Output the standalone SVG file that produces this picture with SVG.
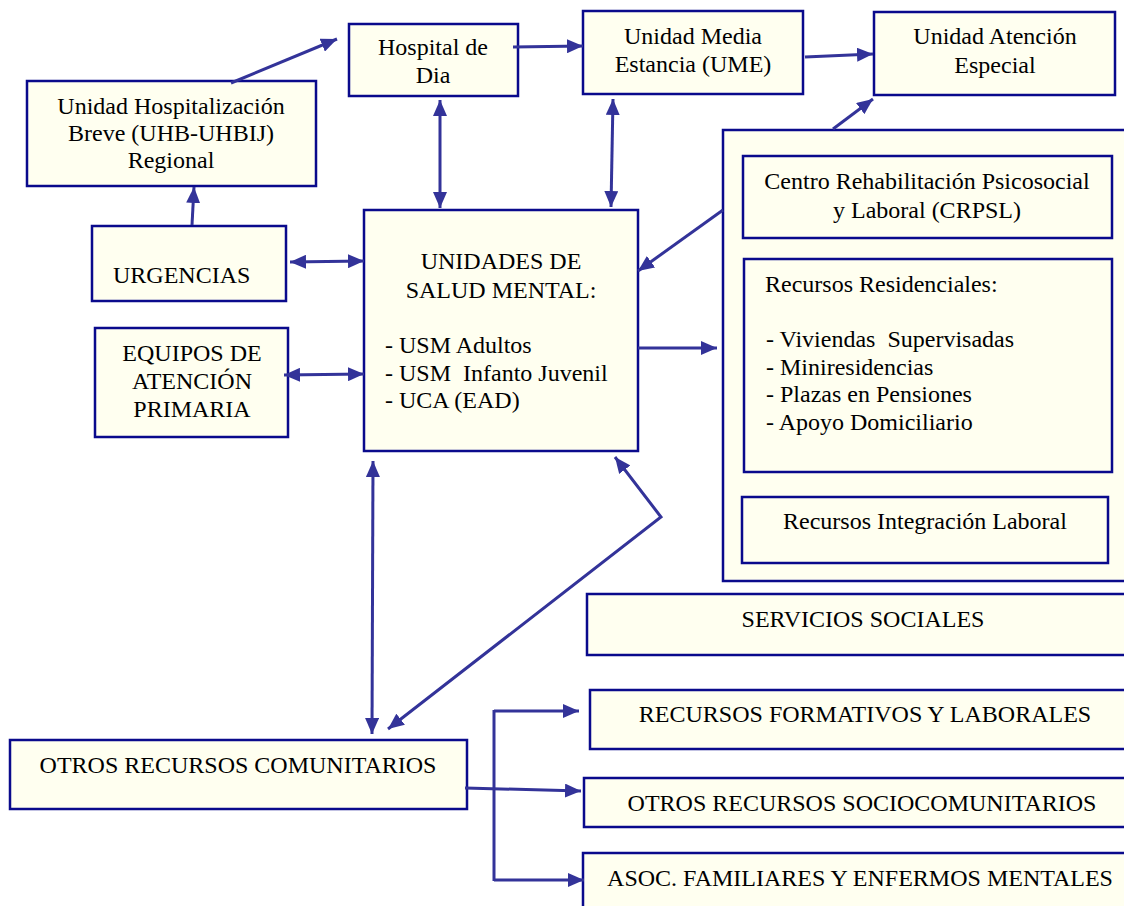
<svg xmlns="http://www.w3.org/2000/svg" width="1124" height="906" viewBox="0 0 1124 906">
<style>
.box{fill:#FFFFF0;stroke:#0A0A8C;stroke-width:2.5}
.t{font-family:"Liberation Serif","Times New Roman",serif;font-size:24px;fill:#000}
.c{text-anchor:middle}
.ln{fill:none;stroke:#333399;stroke-width:3}
</style>
<defs>
<marker id="ah" markerUnits="userSpaceOnUse" markerWidth="18" markerHeight="14" refX="16" refY="7" orient="auto-start-reverse" viewBox="0 0 18 14">
<path d="M0,0 L16,7 L0,14 z" fill="#333399"/>
</marker>
</defs>
<rect width="1124" height="906" fill="#FFFFFF"/>

<g id="uhb">
<rect class="box" x="27" y="81" width="289" height="105"/>
<text class="t c" x="171" y="114">Unidad Hospitalización</text>
<text class="t c" x="171" y="141">Breve (UHB-UHBIJ)</text>
<text class="t c" x="171" y="168">Regional</text>
</g>
<g id="hospital-dia">
<rect class="box" x="349" y="24" width="169" height="72"/>
<text class="t c" x="433" y="55">Hospital de</text>
<text class="t c" x="433" y="83">Dia</text>
</g>
<g id="ume">
<rect class="box" x="583" y="11" width="220" height="83"/>
<text class="t c" x="693" y="44">Unidad Media</text>
<text class="t c" x="693" y="72">Estancia (UME)</text>
</g>
<g id="uae">
<rect class="box" x="874" y="12" width="241" height="83"/>
<text class="t c" x="995" y="44">Unidad Atención</text>
<text class="t c" x="995" y="73">Especial</text>
</g>
<g id="urgencias">
<rect class="box" x="92" y="226" width="194" height="75"/>
<text class="t" x="113" y="283">URGENCIAS</text>
</g>
<g id="equipos">
<rect class="box" x="95" y="328" width="193" height="109"/>
<text class="t c" x="192" y="361">EQUIPOS DE</text>
<text class="t c" x="192" y="389">ATENCIÓN</text>
<text class="t c" x="192" y="417">PRIMARIA</text>
</g>
<g id="usm">
<rect class="box" x="364" y="210" width="274" height="241"/>
<text class="t c" x="501" y="269">UNIDADES DE</text>
<text class="t c" x="501" y="298">SALUD MENTAL:</text>
<text class="t" x="385" y="353">- USM Adultos</text>
<text class="t" x="385" y="381" xml:space="preserve">- USM  Infanto Juvenil</text>
<text class="t" x="385" y="408">- UCA (EAD)</text>
</g>
<g id="rehab-container">
<rect class="box" x="723" y="130" width="420" height="451"/>
</g>
<g id="crpsl">
<rect class="box" x="743" y="156" width="369" height="82"/>
<text class="t c" x="927" y="189">Centro Rehabilitación Psicosocial</text>
<text class="t c" x="927" y="218">y Laboral (CRPSL)</text>
</g>
<g id="residenciales">
<rect class="box" x="744" y="259" width="368" height="213"/>
<text class="t" x="765" y="292">Recursos Residenciales:</text>
<text class="t" x="766" y="347" xml:space="preserve">- Viviendas  Supervisadas</text>
<text class="t" x="766" y="375">- Miniresidencias</text>
<text class="t" x="766" y="402">- Plazas en Pensiones</text>
<text class="t" x="766" y="430">- Apoyo Domiciliario</text>
</g>
<g id="integracion">
<rect class="box" x="742" y="497" width="366" height="66"/>
<text class="t c" x="925" y="529">Recursos Integración Laboral</text>
</g>
<g id="servicios-sociales">
<rect class="box" x="587" y="594" width="560" height="61"/>
<text class="t c" x="863" y="627">SERVICIOS SOCIALES</text>
</g>
<g id="formativos">
<rect class="box" x="590" y="690" width="560" height="59"/>
<text class="t c" x="865" y="722">RECURSOS FORMATIVOS Y LABORALES</text>
</g>
<g id="sociocomunitarios">
<rect class="box" x="584" y="778" width="560" height="49"/>
<text class="t c" x="862" y="811">OTROS RECURSOS SOCIOCOMUNITARIOS</text>
</g>
<g id="asoc">
<rect class="box" x="583" y="853" width="560" height="70"/>
<text class="t c" x="860" y="886">ASOC. FAMILIARES Y ENFERMOS MENTALES</text>
</g>
<g id="otros-comunitarios">
<rect class="box" x="10" y="740" width="457" height="69"/>
<text class="t c" x="238" y="773">OTROS RECURSOS COMUNITARIOS</text>
</g>

<g id="connectors">
<path class="ln" d="M231,83 L337,39" marker-end="url(#ah)"/>
<path class="ln" d="M192,225 L194,187" marker-end="url(#ah)"/>
<path class="ln" d="M290,262 L364,261" marker-start="url(#ah)" marker-end="url(#ah)"/>
<path class="ln" d="M284,375 L364,374" marker-start="url(#ah)" marker-end="url(#ah)"/>
<path class="ln" d="M440,100 L440,208" marker-start="url(#ah)" marker-end="url(#ah)"/>
<path class="ln" d="M613,99 L611,207" marker-start="url(#ah)" marker-end="url(#ah)"/>
<path class="ln" d="M513,47 L583,46" marker-end="url(#ah)"/>
<path class="ln" d="M805,57 L873,54" marker-end="url(#ah)"/>
<path class="ln" d="M833,129 L873,99" marker-end="url(#ah)"/>
<path class="ln" d="M723,210 L638,271" marker-end="url(#ah)"/>
<path class="ln" d="M638,348 L717,348" marker-end="url(#ah)"/>
<path class="ln" d="M373,461 L372,734" marker-start="url(#ah)" marker-end="url(#ah)"/>
<path class="ln" d="M615,457 L661,517 L388,729" marker-start="url(#ah)" marker-end="url(#ah)"/>
<path class="ln" d="M494,710 L494,881"/>
<path class="ln" d="M494,711 L579,711" marker-end="url(#ah)"/>
<path class="ln" d="M465,788 L581,791" marker-end="url(#ah)"/>
<path class="ln" d="M494,880 L584,880" marker-end="url(#ah)"/>
</g>
</svg>
